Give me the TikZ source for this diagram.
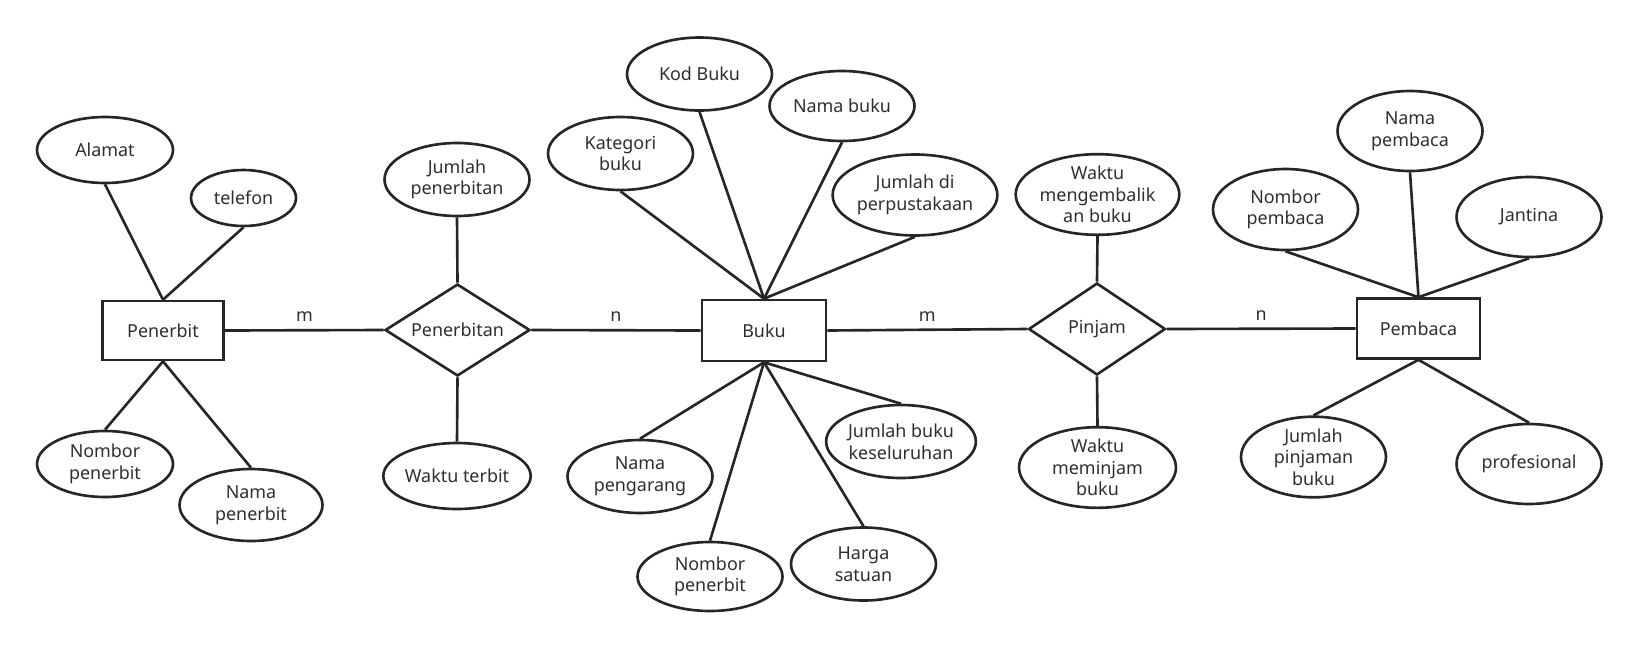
\documentclass[tikz,border=0pt]{standalone}
\usepackage{fontspec}
\setmainfont{Noto Sans}
\usetikzlibrary{shapes.geometric, positioning}
\definecolor{erline}{HTML}{262626}
\definecolor{ertext}{HTML}{2E2E2E}
\begin{document}
\begin{tikzpicture}[x=0.02cm, y=-0.02cm, every node/.style={font=\fontsize{10.2}{12.3}\selectfont, text=ertext},
  entity/.style={rectangle, draw=erline, line width=1.5pt, minimum width=2.46cm, minimum height=1.2cm},
  relation/.style={diamond, aspect=1.6, draw=erline, line width=1.5pt, inner sep=0pt, minimum width=2.9cm, minimum height=1.84cm},
  attr/.style={ellipse, draw=erline, line width=1.5pt, inner sep=0pt, align=center, minimum width=2.9cm, minimum height=1.46cm},
  link/.style={draw=erline, line width=1.5pt},
  card/.style={midway, above=3pt, inner sep=1pt},
]
\useasboundingbox (0,0) rectangle (1637,650);
\node[entity, minimum width=2.43cm, minimum height=1.18cm] (penerbit) at (163,330.5) {Penerbit};
\node[attr, minimum width=2.72cm, minimum height=1.32cm] (alamat) at (105,150) {Alamat};
\node[attr, minimum width=2.1cm, minimum height=1.12cm] (telefon) at (243.5,198) {telefon};
\node[attr, minimum width=2.72cm, minimum height=1.32cm] (nopenerbit) at (105,464) {Nombor\\penerbit};
\node[attr, minimum width=2.86cm, minimum height=1.44cm] (namapenerbit) at (251,505) {Nama\\penerbit};
\node[relation] (penerbitan) at (457.5,330) {Penerbitan};
\node[attr] (jumlahpenerbitan) at (457,179.5) {Jumlah\\penerbitan};
\node[attr, minimum height=1.32cm] (waktuterbit) at (457,476) {Waktu terbit};
\node[entity, minimum width=2.48cm, minimum height=1.22cm] (buku) at (764,330.5) {Buku};
\node[attr] (kodbuku) at (699.5,74) {Kod Buku};
\node[attr, minimum height=1.4cm] (namabuku) at (842,106) {Nama buku};
\node[attr] (kategori) at (620.5,153.5) {Kategori\\buku};
\node[attr, minimum width=3.16cm, minimum height=1.62cm] (jumlahdi) at (915,195) {Jumlah di\\perpustakaan};
\node[attr] (pengarang) at (640,476.5) {Nama\\pengarang};
\node[attr, minimum height=1.38cm] (nobukupenerbit) at (710,576.5) {Nombor\\penerbit};
\node[attr] (harga) at (863.5,564) {Harga\\satuan};
\node[attr] (jumlahbuku) at (901,441.5) {Jumlah buku\\keseluruhan};
\node[relation, minimum width=2.74cm] (pinjam) at (1097,329) {Pinjam};
\node[attr, minimum width=3.14cm, minimum height=1.5cm] (waktukembali) at (1097.5,194.5) {Waktu\\mengembalik\\an buku};
\node[attr, minimum width=3.14cm] (waktupinjam) at (1097.5,467.5) {Waktu\\meminjam\\buku};
\node[entity] (pembaca) at (1418.5,328.5) {Pembaca};
\node[attr, minimum height=1.6cm] (namapembaca) at (1410,131) {Nama\\pembaca};
\node[attr, minimum height=1.62cm] (nopembaca) at (1285.5,209.5) {Nombor\\pembaca};
\node[attr, minimum height=1.6cm] (jantina) at (1529,217) {Jantina};
\node[attr, minimum height=1.6cm] (jumlahpinjaman) at (1313.5,457) {Jumlah\\pinjaman\\buku};
\node[attr, minimum height=1.6cm] (profesional) at (1529,464) {profesional};
\draw[link] (alamat.south) -- (penerbit.north);
\draw[link] (telefon.south) -- (penerbit.north);
\draw[link] (penerbit.south) -- (nopenerbit.north);
\draw[link] (penerbit.south) -- (namapenerbit.north);
\draw[link] (penerbit.east) -- (penerbitan.west) node[card] (card1) {m};
\draw[link] (jumlahpenerbitan.south) -- (penerbitan.north);
\draw[link] (penerbitan.south) -- (waktuterbit.north);
\draw[link] (penerbitan.east) -- (buku.west) node[card] (card2) {n};
\draw[link] (kategori.south) -- (buku.north);
\draw[link] (kodbuku.south) -- (buku.north);
\draw[link] (namabuku.south) -- (buku.north);
\draw[link] (jumlahdi.south) -- (buku.north);
\draw[link] (buku.south) -- (pengarang.north);
\draw[link] (buku.south) -- (nobukupenerbit.north);
\draw[link] (buku.south) -- (harga.north);
\draw[link] (buku.south) -- (jumlahbuku.north);
\draw[link] (buku.east) -- (pinjam.west) node[card] (card3) {m};
\draw[link] (waktukembali.south) -- (pinjam.north);
\draw[link] (pinjam.south) -- (waktupinjam.north);
\draw[link] (pinjam.east) -- (pembaca.west) node[card] (card4) {n};
\draw[link] (nopembaca.south) -- (pembaca.north);
\draw[link] (namapembaca.south) -- (pembaca.north);
\draw[link] (jantina.south) -- (pembaca.north);
\draw[link] (pembaca.south) -- (jumlahpinjaman.north);
\draw[link] (pembaca.south) -- (profesional.north);
\end{tikzpicture}
\end{document}
